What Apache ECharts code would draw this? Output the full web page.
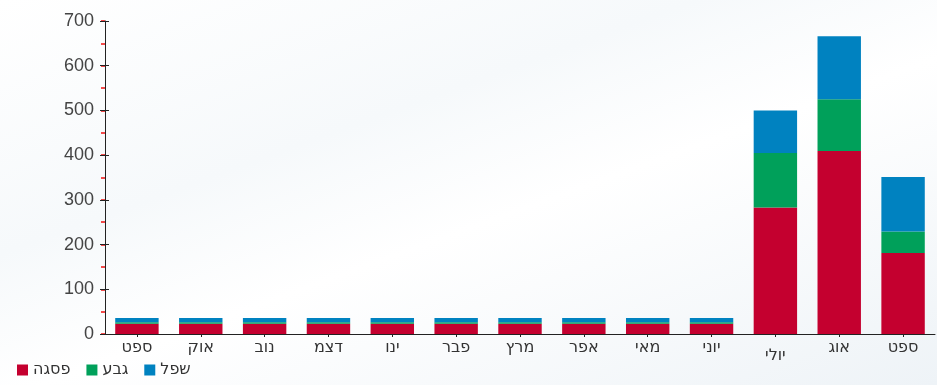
<!DOCTYPE html>
<html>
<head>
<meta charset="utf-8">
<script src="https://cdn.jsdelivr.net/npm/echarts@6/dist/echarts.min.js"></script>
<style>
  html, body { margin: 0; padding: 0; }
  #chart {
    width: 937px;
    height: 385px;
    background: linear-gradient(160deg, #ffffff 0%, #f6f9fb 35%, #ffffff 55%, #eef3f7 100%);
  }
</style>
</head>
<body>
<div id="chart"></div>
<script>
// חודשים
var months = ["ספט", "אוק", "נוב", "דצמ", "ינו", "פבר", "מרץ", "אפר", "מאי", "יוני", "יולי", "אוג", "ספט"];
var seriesNames = ["פסגה", "גבע", "שפל"];
var peak = [23, 23, 23, 23, 23, 23, 23, 23, 23, 23, 283, 409, 181];
var mid = [3, 3, 3, 3, 3, 3, 3, 3, 3, 3, 122, 116, 48];
var low = [10, 10, 10, 10, 10, 10, 10, 10, 10, 10, 95, 141, 122];
var yTicks = [0, 100, 200, 300, 400, 500, 600, 700];

var colors = ["#c4002f", "#00a05a", "#0082c0"];
var numFont = "Liberation Sans, Arial, sans-serif";
var hebFont = "DejaVu Sans, sans-serif";

var chart = echarts.init(document.getElementById("chart"));

function barSeries(i, data) {
    return {
        name: seriesNames[i],
        type: "bar",
        stack: "total",
        yAxisIndex: 0,
        barCategoryGap: "32%",
        itemStyle: {
            color: colors[i]
        },
        data: data
    };
}

var yMin = yTicks[0];
var yMax = yTicks[yTicks.length - 1];

chart.setOption({
    animation: false,
    grid: {
        left: 105,
        right: 2,
        top: 21,
        bottom: 51,
        containLabel: false
    },
    legend: {
        left: 12,
        bottom: 2,
        itemWidth: 11,
        itemHeight: 11,
        itemGap: 16,
        icon: "rect",
        textStyle: {
            color: "#333",
            fontSize: 16,
            fontFamily: hebFont
        },
        data: seriesNames
    },
    xAxis: {
        type: "category",
        data: months,
        axisLine: { lineStyle: { color: "#222", width: 1 } },
        axisTick: { show: true, alignWithLabel: true, length: 3, lineStyle: { color: "#222" } },
        axisLabel: {
            interval: 0,
            color: "#333",
            fontSize: 16,
            margin: 6,
            fontFamily: hebFont,
            formatter: function (v) {
                // יולי יושב נמוך יותר במקור
                return v === "יולי" ? "{low|" + v + "}" : v;
            },
            rich: {
                low: { fontSize: 16, fontFamily: hebFont, color: "#333", padding: [8, 0, 0, 0] }
            }
        }
    },
    yAxis: [
        {
            type: "value",
            min: yMin,
            max: yMax,
            interval: 100,
            z: 3,
            axisLine: { show: true, lineStyle: { color: "#222", width: 1 } },
            axisTick: { show: true, length: 5, lineStyle: { color: "#222" } },
            splitLine: { show: false },
            axisLabel: { color: "#444", fontSize: 18, margin: 11, fontFamily: numFont }
        },
        {
            // ticks on the inner side so the major ticks cross the axis
            type: "value",
            position: "left",
            min: yMin,
            max: yMax,
            interval: 100,
            z: 3,
            axisLine: { show: false },
            axisTick: { show: true, inside: true, length: 4, lineStyle: { color: "#222" } },
            splitLine: { show: false },
            axisLabel: { show: false }
        },
        {
            // red half-step ticks
            type: "value",
            position: "left",
            min: yMin,
            max: yMax,
            interval: 50,
            z: 1,
            axisLine: { show: false },
            axisTick: { show: true, length: 4, lineStyle: { color: "#f01010", width: 1.5 } },
            splitLine: { show: false },
            axisLabel: { show: false }
        }
    ],
    series: [
        barSeries(0, peak),
        barSeries(1, mid),
        barSeries(2, low)
    ]
});
</script>
</body>
</html>
